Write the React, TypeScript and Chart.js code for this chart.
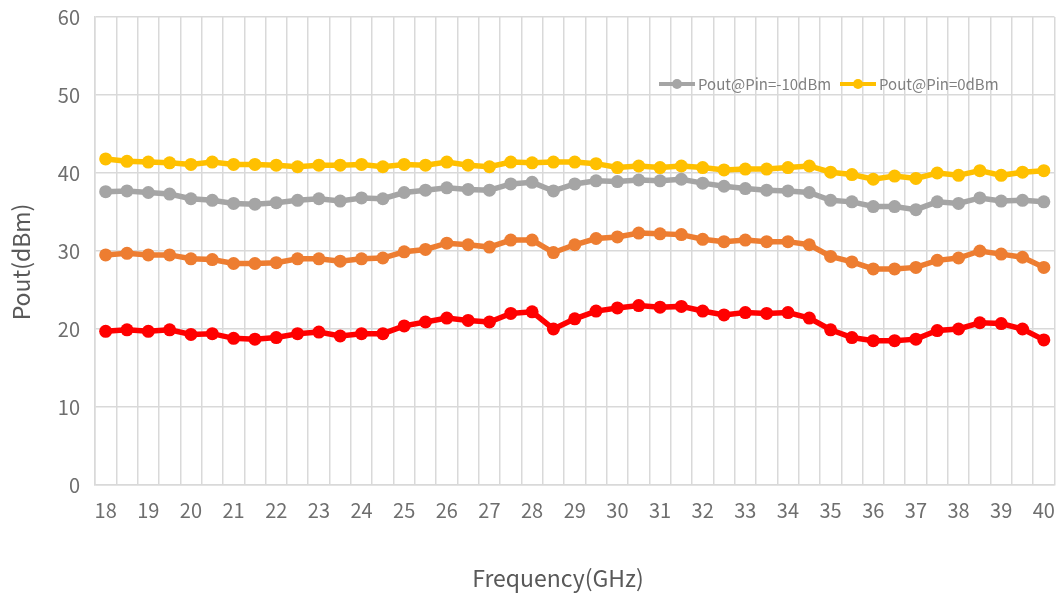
import React, { useEffect, useRef } from 'react';
import { Chart, registerables } from 'chart.js';

Chart.register(...registerables);

const frequencies: number[] = [
  18, 18.5, 19, 19.5, 20, 20.5, 21, 21.5, 22, 22.5, 23, 23.5, 24, 24.5, 25, 25.5,
  26, 26.5, 27, 27.5, 28, 28.5, 29, 29.5, 30, 30.5, 31, 31.5, 32, 32.5, 33, 33.5,
  34, 34.5, 35, 35.5, 36, 36.5, 37, 37.5, 38, 38.5, 39, 39.5, 40,
];

const poutPinMinus10: number[] = [
  37.6, 37.7, 37.5, 37.3, 36.7, 36.5, 36.1, 36.0, 36.2, 36.5, 36.7, 36.4, 36.8, 36.7, 37.5, 37.8,
  38.1, 37.9, 37.8, 38.6, 38.8, 37.7, 38.6, 39.0, 38.9, 39.1, 39.0, 39.2, 38.7, 38.3, 38.0, 37.8,
  37.7, 37.5, 36.5, 36.3, 35.7, 35.7, 35.3, 36.3, 36.1, 36.8, 36.4, 36.5, 36.3,
];

const poutPin0: number[] = [
  41.8, 41.5, 41.4, 41.3, 41.1, 41.4, 41.1, 41.1, 41.0, 40.8, 41.0, 41.0, 41.1, 40.8, 41.1, 41.0,
  41.4, 41.0, 40.8, 41.4, 41.3, 41.4, 41.4, 41.2, 40.7, 40.9, 40.7, 40.9, 40.7, 40.4, 40.5, 40.5,
  40.7, 40.9, 40.1, 39.8, 39.2, 39.6, 39.3, 40.0, 39.7, 40.3, 39.7, 40.1, 40.3,
];

const poutOrange: number[] = [
  29.5, 29.7, 29.5, 29.5, 29.0, 28.9, 28.4, 28.4, 28.5, 29.0, 29.0, 28.7, 29.0, 29.1, 29.9, 30.2,
  31.0, 30.8, 30.5, 31.4, 31.4, 29.8, 30.8, 31.6, 31.8, 32.3, 32.2, 32.1, 31.5, 31.2, 31.4, 31.2,
  31.2, 30.8, 29.3, 28.6, 27.7, 27.7, 27.9, 28.8, 29.1, 30.0, 29.6, 29.2, 27.9,
];

const poutRed: number[] = [
  19.7, 19.9, 19.7, 19.9, 19.3, 19.4, 18.8, 18.7, 18.9, 19.4, 19.6, 19.1, 19.4, 19.4, 20.4, 20.9,
  21.4, 21.1, 20.9, 22.0, 22.2, 20.0, 21.3, 22.3, 22.7, 23.0, 22.8, 22.9, 22.3, 21.8, 22.1, 22.0,
  22.1, 21.4, 19.9, 18.9, 18.5, 18.5, 18.7, 19.8, 20.0, 20.8, 20.7, 20.0, 18.6,
];

const legendLabels: string[] = ['Pout@Pin=-10dBm', 'Pout@Pin=0dBm'];
const xTitle = 'Frequency(GHz)';
const yTitle = 'Pout(dBm)';

const FONT = "'Noto Sans CJK SC', 'Noto Sans', sans-serif";
const TEXT_COLOR = '#6e6e6e';
const GRID_COLOR = '#d9d9d9';

const seriesStyle = (color: string) => ({
  borderColor: color,
  backgroundColor: color,
  pointBackgroundColor: color,
  pointBorderColor: color,
  pointRadius: 6.5,
  pointBorderWidth: 0,
  borderWidth: 5.5,
  tension: 0,
  fill: false,
});

const overlayPlugin = {
  id: 'overlayText',
  afterDraw(chart: any) {
    const ctx = chart.ctx as CanvasRenderingContext2D;
    ctx.save();
    // axis titles
    ctx.fillStyle = '#595959';
    ctx.font = `23px ${FONT}`;
    ctx.textAlign = 'center';
    ctx.textBaseline = 'middle';
    ctx.fillText(xTitle, 558, 578);
    ctx.save();
    ctx.translate(21, 262);
    ctx.rotate(-Math.PI / 2);
    ctx.fillText(yTitle, 0, 0);
    ctx.restore();

    // legend inside the plot
    const items = [
      { label: legendLabels[0], color: '#A5A5A5', x: 659 },
      { label: legendLabels[1], color: '#FFC000', x: 840 },
    ];
    const y = 84;
    ctx.font = `15px ${FONT}`;
    ctx.textBaseline = 'middle';
    ctx.textAlign = 'left';
    for (const it of items) {
      ctx.strokeStyle = it.color;
      ctx.lineWidth = 4;
      ctx.beginPath();
      ctx.moveTo(it.x, y);
      ctx.lineTo(it.x + 36, y);
      ctx.stroke();
      ctx.fillStyle = it.color;
      ctx.beginPath();
      ctx.arc(it.x + 18, y, 5, 0, Math.PI * 2);
      ctx.fill();
      ctx.fillStyle = '#7f7f7f';
      ctx.fillText(it.label, it.x + 39, y);
    }
    ctx.restore();
  },
};

export default function App() {
  const canvasRef = useRef<HTMLCanvasElement | null>(null);

  useEffect(() => {
    if (!canvasRef.current) return;
    const chart = new Chart(canvasRef.current, {
      type: 'line',
      data: {
        labels: frequencies.map((f) => String(f)),
        datasets: [
          { label: legendLabels[0], data: poutPinMinus10, ...seriesStyle('#A5A5A5') },
          { label: legendLabels[1], data: poutPin0, ...seriesStyle('#FFC000') },
          { label: 'orange', data: poutOrange, ...seriesStyle('#ED7D31') },
          { label: 'red', data: poutRed, ...seriesStyle('#FF0000') },
        ],
      },
      options: {
        animation: false,
        responsive: true,
        maintainAspectRatio: false,
        layout: { padding: { top: 17, right: 6, left: 0, bottom: 0 } },
        plugins: {
          legend: { display: false },
          tooltip: { enabled: false },
        },
        scales: {
          x: {
            type: 'category',
            offset: true,
            grid: { offset: true, color: GRID_COLOR, lineWidth: 1.5, drawTicks: false },
            border: { color: GRID_COLOR, width: 1.5 },
            ticks: {
              autoSkip: false,
              maxRotation: 0,
              minRotation: 0,
              padding: 13,
              color: TEXT_COLOR,
              font: { family: FONT, size: 20 },
              callback: (_v: any, i: number) =>
                Number.isInteger(frequencies[i]) ? String(frequencies[i]) : '',
            },
            afterFit: (scale: any) => {
              scale.height = 111;
              scale.paddingLeft = 0;
              scale.paddingRight = 0;
            },
          },
          y: {
            min: 0,
            max: 60,
            ticks: {
              stepSize: 10,
              padding: 15,
              color: TEXT_COLOR,
              font: { family: FONT, size: 20 },
            },
            grid: { color: GRID_COLOR, lineWidth: 1.5, drawTicks: false },
            border: { color: GRID_COLOR, width: 1.5 },
            afterFit: (scale: any) => {
              scale.width = 95;
              scale.paddingTop = 0;
              scale.paddingBottom = 0;
            },
          },
        },
      },
      plugins: [overlayPlugin],
    });
    return () => chart.destroy();
  }, []);

  return (
    <div style={{ position: 'absolute', left: 0, top: 0, width: 1061, height: 596, background: '#ffffff' }}>
      <canvas ref={canvasRef} />
    </div>
  );
}
